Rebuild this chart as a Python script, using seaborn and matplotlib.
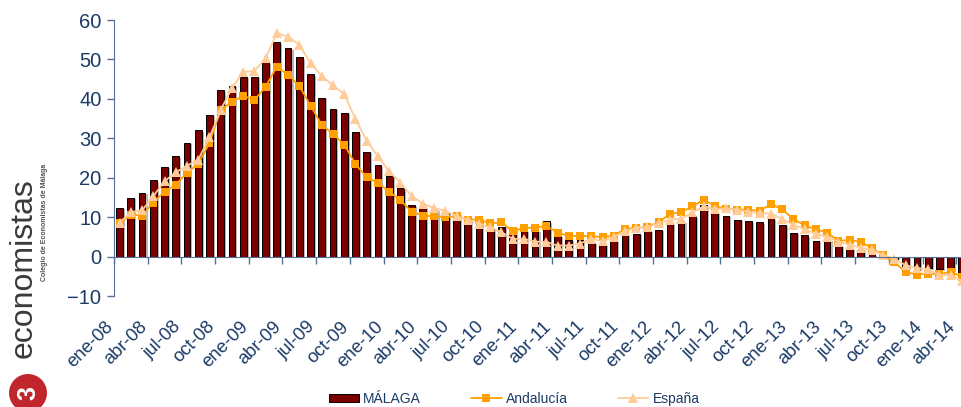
import numpy as np
import pandas as pd
import seaborn as sns
import matplotlib.pyplot as plt
import matplotlib.patheffects as pe
from matplotlib.patches import Patch, Ellipse
from matplotlib.lines import Line2D
from matplotlib.transforms import ScaledTranslation

# Monthly data, ene-08 .. abr-14 (variation, %)
month_names = ["ene", "feb", "mar", "abr", "may", "jun",
               "jul", "ago", "sep", "oct", "nov", "dic"]
years = ["08", "09", "10", "11", "12", "13", "14"]
month_labels = [f"{m}-{y}" for y in years for m in month_names][:76]

malaga = [12.3, 14.9, 16.1, 19.3, 22.7, 25.4, 28.9, 32.0, 35.9, 42.2,
          43.3, 45.6, 45.6, 49.3, 54.3, 52.8, 50.5, 46.2, 40.2, 37.5,
          36.4, 31.5, 26.6, 23.1, 20.4, 17.5, 13.2, 12.6, 11.8, 11.4,
          11.0, 9.4, 10.0, 7.2, 7.5, 7.6, 6.6, 6.7, 8.9, 5.2,
          4.3, 4.3, 3.5, 3.0, 4.1, 5.7, 5.8, 6.6, 6.8, 8.5,
          8.9, 10.2, 13.0, 11.1, 10.4, 9.4, 8.9, 8.7, 9.7, 8.1,
          6.1, 5.4, 4.0, 4.2, 2.7, 2.1, 1.7, 0.6, -0.3, -0.6,
          -3.0, -3.2, -3.0, -3.2, -3.6, -4.5]

andalucia = [8.5, 10.6, 10.4, 13.7, 16.5, 18.2, 21.3, 23.5, 28.8, 37.2,
             39.2, 40.8, 39.7, 43.0, 48.2, 46.1, 43.3, 38.3, 33.4, 31.1,
             28.4, 23.5, 20.1, 18.7, 16.5, 14.3, 11.4, 10.4, 10.2, 10.0,
             10.2, 9.4, 9.4, 8.4, 8.7, 6.4, 7.3, 7.3, 7.8, 6.0,
             5.3, 5.2, 5.2, 4.9, 5.3, 7.0, 7.3, 7.5, 8.7, 10.8,
             11.3, 12.7, 14.4, 12.9, 12.1, 11.9, 11.9, 11.6, 13.3, 12.0,
             9.5, 7.9, 6.9, 6.1, 4.0, 4.2, 3.7, 2.1, 0.4, -1.5,
             -3.9, -4.6, -4.3, -4.5, -3.8, -5.1]

espana = [8.6, 11.3, 11.7, 15.3, 19.1, 21.4, 23.0, 24.6, 30.2, 37.2,
          42.7, 46.8, 47.1, 50.3, 56.6, 55.8, 53.7, 49.0, 45.8, 43.4,
          41.2, 34.9, 29.4, 25.4, 21.6, 18.7, 15.4, 13.4, 12.3, 11.6,
          10.2, 9.4, 8.3, 7.4, 6.2, 4.5, 4.5, 3.8, 3.7, 2.8,
          2.8, 3.3, 4.5, 3.9, 5.0, 6.4, 7.3, 7.5, 8.4, 9.4,
          9.6, 11.2, 12.7, 12.1, 12.2, 11.9, 11.3, 11.0, 10.9, 9.5,
          8.1, 6.9, 5.8, 5.0, 3.8, 3.0, 2.3, 1.7, 0.4, -0.6,
          -2.2, -2.9, -3.2, -4.7, -4.7, -6.2]

series_names = ["MÁLAGA", "Andalucía", "España"]
y_ticks = [-10, 0, 10, 20, 30, 40, 50, 60]

df = pd.DataFrame({"mes": month_labels, "idx": np.arange(len(month_labels)),
                   "malaga": malaga, "andalucia": andalucia, "espana": espana})

sns.set_style("white")
plt.rcParams["font.family"] = ["Liberation Sans", "DejaVu Sans"]

navy = "#1B3A66"
axis_col = "#557096"
bar_col = "#7A0000"
and_col = "#FFA000"
esp_col = "#FFCC99"

fig = plt.figure(figsize=(9.61, 4.07), dpi=100)
W, H = 961, 407
px = 11.23  # width of one month
ax = fig.add_axes([114 / W, 1 - 296 / H, 76 * px / W, 276 / H])

sns.barplot(data=df, x="mes", y="malaga", color=bar_col, width=0.6,
            edgecolor="black", linewidth=0.7, saturation=1, ax=ax)
for b in ax.patches:
    b.set_path_effects([pe.SimplePatchShadow(offset=(1.5, -1), shadow_rgbFace="#888888", alpha=0.6),
                        pe.Normal()])

sns.lineplot(data=df, x="idx", y="andalucia", color=and_col, marker="s",
             markersize=6, markeredgewidth=0, linewidth=1.3, ax=ax)
sns.lineplot(data=df, x="idx", y="espana", color=esp_col, marker="^",
             markersize=7.5, markeredgewidth=0, linewidth=1.3, ax=ax)

ax.set_xlim(-0.5, 75.5)
ax.set_ylim(-10, 60)
ax.set_xlabel("")
ax.set_ylabel("")
ax.set_yticks(y_ticks)
ax.tick_params(axis="y", direction="out", length=5, width=1, color=axis_col,
               labelsize=14.5, labelcolor=navy, pad=4, left=True)

# zero line with month tick marks
for s in ["top", "right"]:
    ax.spines[s].set_visible(False)
ax.spines["left"].set_color(axis_col)
ax.spines["bottom"].set_position(("data", 0))
ax.spines["bottom"].set_color(axis_col)
ax.set_xticks(np.arange(-0.5, 76, 3))
ax.set_xticklabels([])
ax.tick_params(axis="x", direction="out", length=5, width=1, color=axis_col, bottom=True)

# category labels at the bottom of the plot area
sec = ax.secondary_xaxis("bottom")
sec.set_xticks(np.arange(0, 76, 3), labels=month_labels[::3])
sec.spines["bottom"].set_visible(False)
sec.tick_params(length=0, pad=16, labelsize=13.2, labelcolor=navy)
offset = ScaledTranslation(-0.15, 0, fig.dpi_scale_trans)
for lbl in sec.get_xticklabels():
    lbl.set_rotation(45)
    lbl.set_ha("right")
    lbl.set_rotation_mode("anchor")
    lbl.set_transform(lbl.get_transform() + offset)

# legend
handles = [Patch(facecolor=bar_col, edgecolor="black", linewidth=0.7),
           Line2D([], [], color=and_col, marker="s", markersize=6, markeredgewidth=0, linewidth=1.3),
           Line2D([], [], color=esp_col, marker="^", markersize=7, markeredgewidth=0, linewidth=1.3)]
leg = fig.legend(handles, series_names, loc="center", bbox_to_anchor=(0.535, 0.02),
                 ncol=3, frameon=False, fontsize=10, handlelength=2.2, handleheight=0.6,
                 handletextpad=0.3, columnspacing=3.6)
for t in leg.get_texts():
    t.set_color(navy)

# logo on the left
fig.text(24 / W, 1 - 268 / H, "economistas", rotation=90, ha="center", va="center",
         fontsize=23, color="#3A3A3A")
fig.text(45 / W, 1 - 222 / H, "Colegio de Economistas de Málaga", rotation=90,
         ha="center", va="center", fontsize=5, color="#555555", fontweight="bold")
fig.patches.append(Ellipse((28 / W, 1 - 393 / H), 38 / W, 38 / H, transform=fig.transFigure,
                           facecolor="#C0262C", edgecolor="none", figure=fig))
fig.text(28 / W, 1 - 393 / H, "3", rotation=90, ha="center", va="center",
         fontsize=18, color="white", fontweight="bold")

fig.savefig("out.png", dpi=100)
